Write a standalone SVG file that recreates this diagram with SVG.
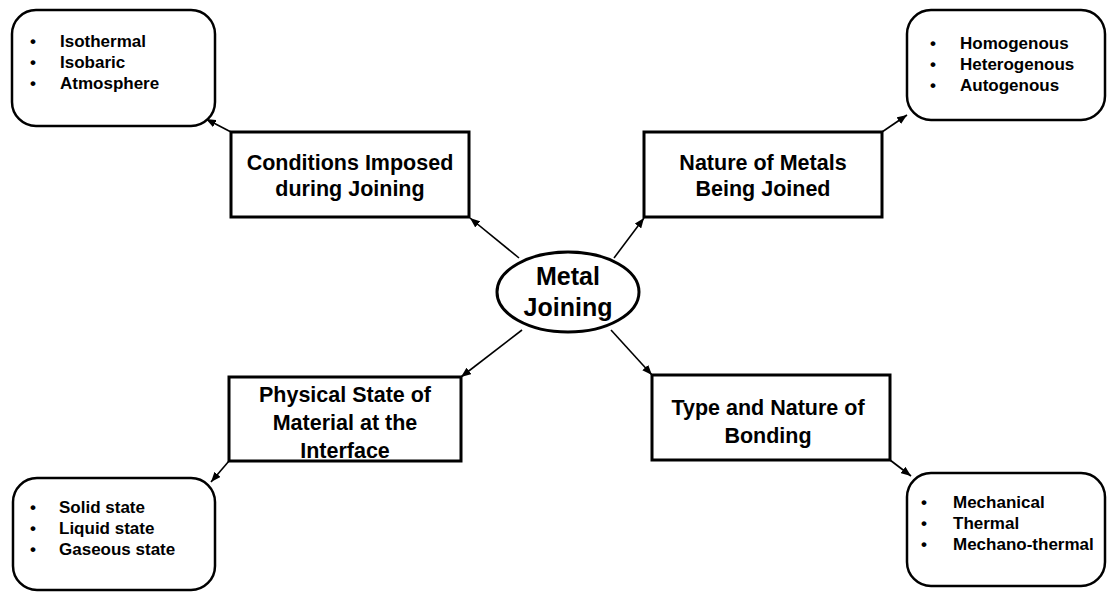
<svg xmlns="http://www.w3.org/2000/svg" width="1110" height="592" viewBox="0 0 1110 592">
  <style>
    .box { fill: #ffffff; stroke: #000000; stroke-width: 3; }
    .rbox { fill: #ffffff; stroke: #000000; stroke-width: 2.5; }
    .hub { fill: #ffffff; stroke: #000000; stroke-width: 3; }
    .t { font-family: "Liberation Sans", Arial, sans-serif; font-weight: bold; fill: #000000; }
    .main { font-size: 21.5px; text-anchor: middle; }
    .hubt { font-size: 25px; text-anchor: middle; }
    .li { font-size: 17px; }
    .conn { stroke: #000000; stroke-width: 1.6; fill: none; marker-end: url(#arrow); }
  </style>
  <defs>
    <marker id="arrow" markerUnits="userSpaceOnUse" markerWidth="10" markerHeight="8" viewBox="0 0 10 8" refX="10" refY="4" orient="auto">
      <path d="M0,0 L10,4 L0,8 z" fill="#000000"/>
    </marker>
  </defs>
  <rect width="1110" height="592" fill="#ffffff"/>

  <g id="connectors">
    <line class="conn" x1="519" y1="258" x2="470" y2="218"/>
    <line class="conn" x1="231" y1="132" x2="206" y2="119"/>
    <line class="conn" x1="614" y1="258" x2="644" y2="218"/>
    <line class="conn" x1="882" y1="132" x2="907" y2="115"/>
    <line class="conn" x1="522" y1="330" x2="461" y2="377"/>
    <line class="conn" x1="229" y1="461" x2="211" y2="482"/>
    <line class="conn" x1="611" y1="330" x2="652" y2="375"/>
    <line class="conn" x1="890" y1="460" x2="911" y2="476"/>
  </g>

  <g id="hub">
    <ellipse class="hub" cx="568" cy="292" rx="71" ry="40"/>
    <text class="t hubt" x="568" y="285">Metal</text>
    <text class="t hubt" x="568" y="316">Joining</text>
  </g>

  <g id="conditions">
    <rect class="box" x="231" y="132" width="238" height="85"/>
    <text class="t main" x="350" y="170">Conditions Imposed</text>
    <text class="t main" x="350" y="196">during Joining</text>
  </g>

  <g id="nature">
    <rect class="box" x="644" y="132" width="238" height="85"/>
    <text class="t main" x="763" y="170">Nature of Metals</text>
    <text class="t main" x="763" y="196">Being Joined</text>
  </g>

  <g id="physical">
    <rect class="box" x="229" y="377" width="232" height="84"/>
    <text class="t main" x="345" y="402">Physical State of</text>
    <text class="t main" x="345" y="430">Material at the</text>
    <text class="t main" x="345" y="458">Interface</text>
  </g>

  <g id="bonding">
    <rect class="box" x="652" y="375" width="238" height="85"/>
    <text class="t main" x="768" y="415">Type and Nature of</text>
    <text class="t main" x="768" y="443">Bonding</text>
  </g>

  <g id="conditions-list">
    <rect class="rbox" x="12" y="10" width="203" height="116" rx="24" ry="24"/>
    <text class="t li" x="30" y="47">•</text>
    <text class="t li" x="60" y="47">Isothermal</text>
    <text class="t li" x="30" y="68">•</text>
    <text class="t li" x="60" y="68">Isobaric</text>
    <text class="t li" x="30" y="89">•</text>
    <text class="t li" x="60" y="89">Atmosphere</text>
  </g>

  <g id="nature-list">
    <rect class="rbox" x="907" y="10" width="198" height="110" rx="24" ry="24"/>
    <text class="t li" x="930" y="49">•</text>
    <text class="t li" x="960" y="49">Homogenous</text>
    <text class="t li" x="930" y="70">•</text>
    <text class="t li" x="960" y="70">Heterogenous</text>
    <text class="t li" x="930" y="91">•</text>
    <text class="t li" x="960" y="91">Autogenous</text>
  </g>

  <g id="physical-list">
    <rect class="rbox" x="13" y="478" width="202" height="112" rx="24" ry="24"/>
    <text class="t li" x="30" y="513">•</text>
    <text class="t li" x="59" y="513">Solid state</text>
    <text class="t li" x="30" y="534">•</text>
    <text class="t li" x="59" y="534">Liquid state</text>
    <text class="t li" x="30" y="555">•</text>
    <text class="t li" x="59" y="555">Gaseous state</text>
  </g>

  <g id="bonding-list">
    <rect class="rbox" x="907" y="473" width="198" height="113" rx="24" ry="24"/>
    <text class="t li" x="921" y="508">•</text>
    <text class="t li" x="953" y="508">Mechanical</text>
    <text class="t li" x="921" y="529">•</text>
    <text class="t li" x="953" y="529">Thermal</text>
    <text class="t li" x="921" y="550">•</text>
    <text class="t li" x="953" y="550">Mechano-thermal</text>
  </g>
</svg>
